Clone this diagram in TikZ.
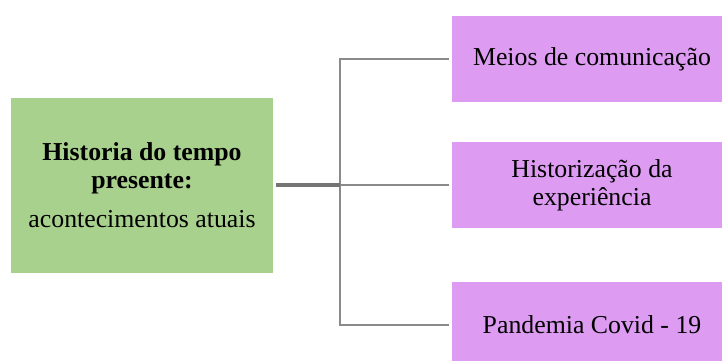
\documentclass[tikz,border=0pt]{standalone}
\usepackage{fontspec}
\setmainfont{Liberation Serif}
\definecolor{topicgreen}{HTML}{A9D18E}
\definecolor{itempurple}{HTML}{DD9BF1}
\definecolor{linkgray}{HTML}{8A8A8A}
\definecolor{trunkgray}{HTML}{747474}
\begin{document}
\begin{tikzpicture}[x=1pt,y=-1pt,
  every node/.style={inner sep=0pt, outer sep=0pt, align=center,
    font=\rmfamily\fontsize{25.8}{28}\selectfont},
  topic/.style={fill=topicgreen, minimum width=262pt, minimum height=175pt},
  item/.style={fill=itempurple, minimum width=280pt, minimum height=86pt},
  trunk/.style={draw=trunkgray, line width=3.2pt},
  branch/.style={draw=linkgray, line width=2pt}]
  \useasboundingbox (0,0) rectangle (722,360);
  \clip (0,0) rectangle (722,360);
  % central topic
  \node[topic] (topic) at (142,185)
    {\textbf{Historia do tempo}\\ \textbf{presente:}\\[11pt] acontecimentos atuais};
  % sub-topics
  \node[item] (m1) at (592,59)  {Meios de comunicação};
  \node[item] (m2) at (592,185) {Historização da\\ experiência};
  \node[item] (m3) at (592,325) {Pandemia Covid - 19};
  % connectors
  \coordinate (j) at (340,185);
  \draw[branch, shorten >=3pt] (j) |- (m1.west);
  \draw[branch, shorten >=3pt] (j) |- (m3.west);
  \draw[branch, shorten >=3pt] (j) -- (m2.west);
  \draw[trunk, shorten <=3pt] (topic.east) -- (j);
\end{tikzpicture}
\end{document}
